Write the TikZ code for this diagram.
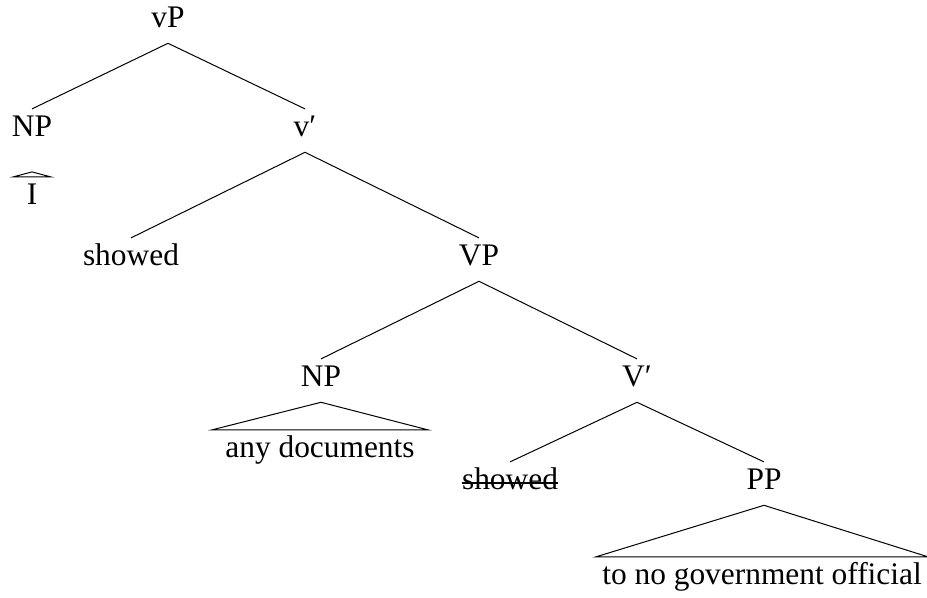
\documentclass[tikz,border=0pt]{standalone}
\usepackage{fontspec}
\setmainfont{Liberation Serif}
\tikzset{
  cat/.style={anchor=base, text height=10.3pt, text depth=3.9pt, inner xsep=1pt, inner ysep=3.5pt},
  leaf/.style={cat, inner xsep=6.5pt}
}
\begin{document}
\begin{tikzpicture}[x=0.5pt, y=-0.5pt, line width=0.5pt, font=\fontsize{15.7}{19}\selectfont]
      \useasboundingbox (0,0) rectangle (927,598);
      \draw
        (168,28) node[cat] (vP){vP}
        (32,137) node[cat] (NP1){NP}
        (305,137) node[cat] (vbar){v′}
        (32,205) node[leaf] (I){I}
        (131,266) node[cat] (showed1){showed}
        (479,266) node[cat] (VP){VP}
        (321,387) node[cat] (NP2){NP}
        (637,387) node[cat] (Vbar){V′}
        (320,458) node[leaf] (docs){any documents}
        (510,490) node[cat, inner xsep=0pt] (showed2){showed}
        (764,490) node[cat] (PP){PP}
        (762,585) node[leaf, inner xsep=3pt] (official){to no government official};
      \begin{scope}[-]
        \draw (vP.south) to (NP1.north);
        \draw (vP.south) to (vbar.north);
        \draw (vbar.south) to (showed1.north);
        \draw (vbar.south) to (VP.north);
        \draw (VP.south) to (NP2.north);
        \draw (VP.south) to (Vbar.north);
        \draw (Vbar.south) to (showed2.north);
        \draw (Vbar.south) to (PP.north);
      \end{scope}
      % struck-out copy
      \draw[line width=0.7pt] ([yshift=3.5pt]showed2.base west) -- ([yshift=3.5pt]showed2.base east);
      \draw (I.north west) -- ([yshift=2.5pt]I.north) -- (I.north east) -- cycle;
      \draw (NP2.south) -- (docs.north west) -- (docs.north east) -- cycle;
      \draw (PP.south) -- (official.north west) -- (official.north east) -- cycle;
    \end{tikzpicture}
\end{document}
